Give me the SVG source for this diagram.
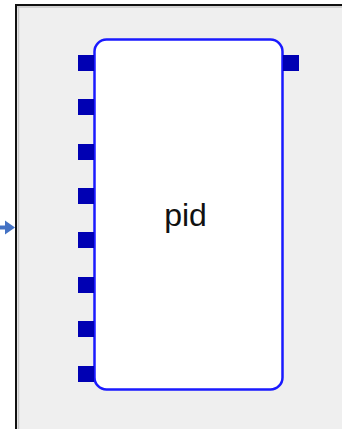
<svg xmlns="http://www.w3.org/2000/svg" width="342" height="429" viewBox="0 0 342 429">
<style>
.port{fill:#0000b3;}
.body{fill:#ffffff;stroke:#1a1aff;stroke-width:2.5;}
.lbl{font-family:"Liberation Sans",Arial,sans-serif;font-size:32px;fill:#111;}
</style>
<rect x="0" y="0" width="342" height="429" fill="#ffffff"/>
<rect x="16" y="5" width="326" height="424" fill="#efefef"/>
<line x1="17" y1="7" x2="342" y2="7" stroke="#c8c8c8" stroke-width="1.5"/>
<line x1="18.5" y1="6" x2="18.5" y2="429" stroke="#c8c8c8" stroke-width="1.5"/>
<line x1="15" y1="5" x2="342" y2="5" stroke="#111" stroke-width="2"/>
<line x1="16" y1="4" x2="16" y2="429" stroke="#111" stroke-width="2"/>
<g id="connectors">
<line x1="0" y1="227.5" x2="8" y2="227.5" stroke="#4472c4" stroke-width="4"/>
<polygon points="5,220.5 15,227.5 5,234.5" fill="#4472c4"/>
</g>
<g id="pid">
<rect class="body" x="94.5" y="39.5" width="188" height="350" rx="12" ry="12"/>
<text class="lbl" x="185.5" y="226" text-anchor="middle">pid</text>
</g>
<g id="ports">
<rect class="port" x="78" y="55" width="16" height="16"/>
<rect class="port" x="78" y="99" width="16" height="16"/>
<rect class="port" x="78" y="144" width="16" height="16"/>
<rect class="port" x="78" y="188" width="16" height="16"/>
<rect class="port" x="78" y="232" width="16" height="16"/>
<rect class="port" x="78" y="277" width="16" height="16"/>
<rect class="port" x="78" y="321" width="16" height="16"/>
<rect class="port" x="78" y="366" width="16" height="16"/>
<rect class="port" x="283" y="55" width="16" height="16"/>
</g>
</svg>
